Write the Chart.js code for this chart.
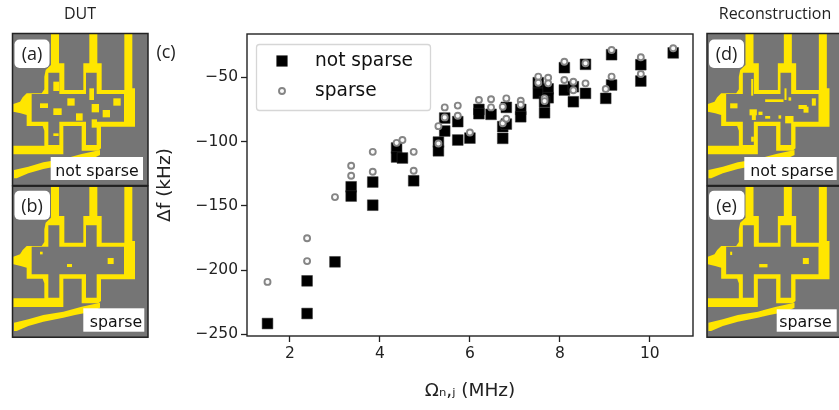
<!DOCTYPE html>
<html><head><meta charset="utf-8">
<script src="https://cdn.jsdelivr.net/npm/chart.js@4/dist/chart.umd.min.js"></script>
<style>
html,body{margin:0;padding:0;background:#fff;width:839px;height:410px;overflow:hidden}
#wrap{position:relative;width:839px;height:410px;filter:blur(0.3px)}
canvas{position:absolute;left:0;top:0}
svg{position:absolute;left:0;top:0}
.cap{font-family:"Open Sans";font-size:16px;fill:#222;text-anchor:middle}
.tag{font-family:"Open Sans";font-size:18px;fill:#222;text-anchor:middle}
.lab{font-family:"DejaVu Sans";font-size:15.8px;fill:#111;text-anchor:middle}
</style></head><body>
<div id="wrap"><canvas id="c" width="839" height="410"></canvas>
<svg width="839" height="410" viewBox="0 0 839 410">
<defs>
<g id="device" transform="scale(0.33333)">
<rect x="37" y="100" width="407" height="456" fill="#757575"/>
<path fill="#ffe600" fill-rule="evenodd" d="M153 100H177V190H193V270H250V190H268V100H292V190H305V270H373V100H397V265H405V380H303V445L295 452H245V378H190V463H40V437H133V392L128 378H80V345L62 340L40 335V312L60 305L68 292L80 280H125L133 268V230L137 210L153 195Z
M145 218H178V282H258V218H290V282H372V365H290V435H258V365H178V435H145V365H95V282H145Z"/>
<path fill="#ffe600" d="M42 510L85 500L130 487L190 477L245 462L300 450V465L275 477L225 487L190 495L130 507L85 520L50 535H42Z"/>
</g>
</defs>
<text class="cap" x="80" y="19">DUT</text>
<text class="cap" x="775" y="19">Reconstruction</text>
<text class="tag" x="166" y="58">(c)</text>

<g>
<use href="#device"/>
<g fill="#ffe600" transform="scale(0.33333)">
<rect x="160" y="245" width="18" height="28"/><rect x="120" y="310" width="24" height="14"/><rect x="160" y="325" width="25" height="20"/><rect x="202" y="295" width="22" height="22"/><rect x="268" y="265" width="14" height="35"/><rect x="275" y="312" width="22" height="25"/><rect x="340" y="295" width="22" height="22"/><rect x="228" y="340" width="20" height="22"/><rect x="308" y="330" width="22" height="22"/><rect x="275" y="358" width="16" height="25"/><rect x="160" y="400" width="16" height="8"/>
</g>
<rect x="12.5" y="33.5" width="135.5" height="152" fill="none" stroke="#222" stroke-width="1.5"/>
<rect x="14.5" y="39.5" width="35" height="28.5" rx="5" fill="#fff"/>
<text class="tag" x="32" y="60">(a)</text>
<rect x="50.7" y="157" width="92.3" height="23" fill="#fff"/>
<text class="lab" x="97" y="176">not sparse</text>
</g>

<g transform="translate(0,152.7)">
<use href="#device"/>
<g fill="#ffe600" transform="scale(0.33333)">
<rect x="120" y="297" width="8" height="8"/><rect x="201" y="334" width="15" height="9"/><rect x="323" y="316" width="18" height="18"/>
</g>
<rect x="12.5" y="33.5" width="135.5" height="151" fill="none" stroke="#222" stroke-width="1.5"/>
<rect x="14.5" y="38" width="35.5" height="29" rx="5" fill="#fff"/>
<text class="tag" x="32" y="59">(b)</text>
<rect x="83.3" y="155.6" width="61" height="23.4" fill="#fff"/>
<text class="lab" x="116" y="174">sparse</text>
</g>

<g transform="translate(694.5,0)">
<use href="#device"/>
<g fill="#ffe600" transform="translate(-4.33,0) scale(0.33333)">
<rect x="183" y="237" width="6" height="50"/><rect x="225" y="298" width="55" height="8"/><rect x="283" y="265" width="6" height="35"/><rect x="295" y="292" width="8" height="10"/><rect x="120" y="310" width="22" height="15"/><rect x="178" y="328" width="22" height="18"/><rect x="185" y="345" width="12" height="15"/><rect x="205" y="335" width="12" height="10"/><rect x="225" y="348" width="15" height="8"/><rect x="265" y="346" width="8" height="10"/><rect x="285" y="348" width="25" height="22"/><rect x="325" y="315" width="25" height="12"/><rect x="340" y="320" width="15" height="18"/><rect x="365" y="295" width="12" height="22"/><rect x="183" y="410" width="8" height="15"/>
</g>
<rect x="12.5" y="33.5" width="135.5" height="152" fill="none" stroke="#222" stroke-width="1.5"/>
<rect x="14.5" y="39.5" width="35" height="28.5" rx="5" fill="#fff"/>
<text class="tag" x="32" y="60">(d)</text>
<rect x="49.8" y="157" width="92.4" height="23" fill="#fff"/>
<text class="lab" x="97.5" y="176">not sparse</text>
</g>

<g transform="translate(694.5,152.7)">
<use href="#device"/>
<g fill="#ffe600" transform="translate(-4.33,0) scale(0.33333)">
<rect x="120" y="297" width="6" height="10"/><rect x="207" y="334" width="25" height="10"/><rect x="338" y="316" width="18" height="18"/>
</g>
<rect x="12.5" y="33.5" width="135.5" height="151" fill="none" stroke="#222" stroke-width="1.5"/>
<rect x="14.5" y="38" width="35.5" height="29" rx="5" fill="#fff"/>
<text class="tag" x="32" y="59">(e)</text>
<rect x="82.2" y="156.6" width="60" height="22.4" fill="#fff"/>
<text class="lab" x="111" y="174">sparse</text>
</g>
</svg>
</div>
<script>
const xLabel = "\u03A9\u2099,\u2C7C (MHz)";
const yLabel = "\u0394f (kHz)";
const seriesNames = ["not sparse", "sparse"];
const xTicks = [2, 4, 6, 8, 10];
const yTicks = [-50, -100, -150, -200, -250];

const notSparseX = [1.5,2.38,2.38,3.0,3.36,3.36,3.84,3.84,4.75,4.37,4.37,4.5,5.3,5.3,5.44,5.44,5.73,5.73,6.0,6.2,6.2,6.47,6.73,6.73,6.81,6.81,7.13,7.13,7.52,7.52,7.74,7.74,7.66,7.66,8.1,8.1,8.3,8.3,8.57,8.57,9.02,9.15,9.15,9.8,9.8,10.52];
const notSparseY = [-241.6,-233.8,-208.4,-193.6,-135.2,-142.4,-131.5,-149.5,-130.5,-105,-112,-112.8,-100.4,-107.2,-81.7,-91.8,-84.5,-98.8,-97.3,-75,-78.3,-78.8,-97.5,-88.4,-86.4,-73.4,-75,-80.7,-54.2,-62.5,-59,-65.9,-69,-77.6,-42.5,-59.9,-57.3,-69,-39.9,-62.5,-66.4,-56,-32.4,-40.2,-52.9,-31];
const sparseX = [1.5,2.38,2.38,3.0,3.36,3.36,3.84,3.84,4.75,4.75,4.37,4.5,5.3,5.3,5.44,5.44,5.73,5.73,6.0,6.2,6.47,6.47,6.73,6.73,6.81,6.81,7.13,7.13,7.52,7.52,7.74,7.74,7.66,7.66,8.1,8.1,8.3,8.3,8.57,8.57,9.02,9.15,9.15,9.8,9.8,10.52];
const sparseY = [-209.2,-193,-175.2,-143.2,-118.8,-126.6,-123.5,-108,-108,-122.7,-101,-98.8,-88,-101.5,-73.4,-81.2,-72,-79.9,-93,-67.7,-67.1,-73.4,-72.9,-85.8,-66.4,-82.2,-68.2,-71.3,-49.5,-54.2,-50.3,-54.7,-66.4,-68.5,-37.9,-52.1,-53.4,-60.1,-39.1,-54.7,-59.1,-49.5,-28.7,-34.4,-47.4,-27.4];

const toPts = (xs, ys) => xs.map((x, i) => ({x, y: ys[i]}));
const minusFmt = v => String(v).replace('-', '\u2212');

const frameAndLegend = {
  id: 'frameAndLegend',
  afterDatasetsDraw(chart) {
    const {ctx, chartArea: a} = chart;
    ctx.save();
    ctx.strokeStyle = '#222'; ctx.lineWidth = 1.4;
    ctx.strokeRect(a.left, a.top, a.right - a.left, a.bottom - a.top);
    ctx.beginPath();
    ctx.roundRect(256.5, 44.5, 174, 66, 3);
    ctx.fillStyle = 'rgba(255,255,255,0.8)'; ctx.fill();
    ctx.strokeStyle = '#d6d6d6'; ctx.lineWidth = 1.3; ctx.stroke();
    const ds = chart.data.datasets, rows = [61, 91];
    ds.forEach((d, i) => {
      ctx.fillStyle = d.backgroundColor; ctx.strokeStyle = d.borderColor; ctx.lineWidth = d.borderWidth;
      Chart.helpers.drawPoint(ctx, {pointStyle: d.pointStyle, radius: d.pointRadius, borderWidth: d.borderWidth}, 282, rows[i]);
      ctx.fillStyle = '#111'; ctx.font = '18.6px "DejaVu Sans"';
      ctx.textBaseline = 'middle'; ctx.textAlign = 'left';
      ctx.fillText(d.label, 315, rows[i]);
    });
    ctx.restore();
  }
};

new Chart(document.getElementById('c'), {
  type: 'scatter',
  data: {datasets: [
    {label: seriesNames[0], order: 2, data: toPts(notSparseX, notSparseY), pointStyle: 'rect', pointRadius: 7.6, pointHoverRadius: 7.6,
     backgroundColor: '#000', borderColor: '#333', borderWidth: 0.5},
    {label: seriesNames[1], order: 1, data: toPts(sparseX, sparseY), pointStyle: 'circle', pointRadius: 3, pointHoverRadius: 3,
     backgroundColor: '#fafafa', borderColor: '#858585', borderWidth: 1.9}
  ]},
  plugins: [frameAndLegend],
  options: {
    responsive: false, animation: false, events: [],
    layout: {padding: {left: 154, right: 146, top: 34, bottom: 8}},
    plugins: {legend: {display: false}, tooltip: {enabled: false}, title: {display: false}},
    scales: {
      x: {type: 'linear', min: 1.044, max: 10.96,
        afterBuildTicks(s) { s.ticks = xTicks.map(value => ({value})); },
        afterFit(s) { s.height = 66; },
        grid: {drawOnChartArea: false, tickLength: 6, tickColor: '#222', tickWidth: 1.3},
        border: {display: false},
        ticks: {color: '#222', font: {family: 'DejaVu Sans', size: 15.5}, padding: 3, maxRotation: 0, autoSkip: false},
        title: {display: true, text: xLabel, color: '#222', font: {family: 'DejaVu Sans', size: 18.5}, padding: {top: 0, bottom: 0}}
      },
      y: {type: 'linear', min: -251.3, max: -16.3,
        afterBuildTicks(s) { s.ticks = yTicks.map(value => ({value})); },
        afterFit(s) { s.width = 93; },
        grid: {drawOnChartArea: false, tickLength: 6, tickColor: '#222', tickWidth: 1.3},
        border: {display: false},
        ticks: {color: '#222', font: {family: 'DejaVu Sans', size: 15.5}, padding: 3, autoSkip: false, callback: minusFmt},
        title: {display: true, text: yLabel, color: '#222', font: {family: 'DejaVu Sans', size: 18.5}, padding: {top: 0, bottom: 0}}
      }
    }
  }
});
</script>
</body></html>
